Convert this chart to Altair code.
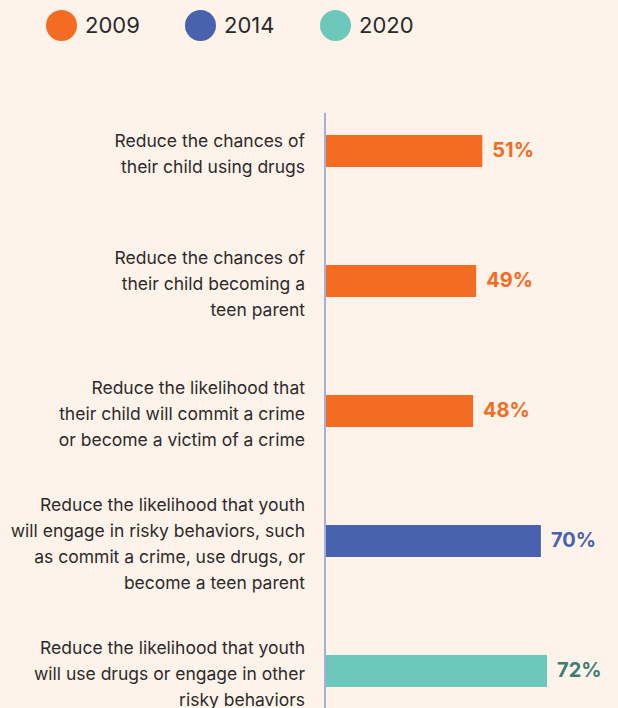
import altair as alt
import pandas as pd

categories = [
    "Reduce the chances of|their child using drugs",
    "Reduce the chances of|their child becoming a|teen parent",
    "Reduce the likelihood that|their child will commit a crime|or become a victim of a crime",
    "Reduce the likelihood that youth|will engage in risky behaviors, such|as commit a crime, use drugs, or|become a teen parent",
    "Reduce the likelihood that youth|will use drugs or engage in other|risky behaviors",
]
years = ["2009", "2009", "2009", "2014", "2020"]
values = [51, 49, 48, 70, 72]
year_domain = ["2009", "2014", "2020"]
bar_colors = ["#F36C22", "#4862AD", "#6CC8BA"]
label_colors = ["#F36C22", "#4862AD", "#3F7D73"]

df = pd.DataFrame({"category": categories, "year": years, "value": values})
df["label"] = df["value"].astype(str) + "%"

font = "Inter"
LINE_H = 26

y_enc = alt.Y(
    "category:N",
    sort=None,
    scale=alt.Scale(paddingInner=0.754, paddingOuter=0.377, range=[0, 650]),
    axis=None,
)
x_enc = alt.X("value:Q", scale=alt.Scale(domain=[0, 95]), axis=None)

bars = alt.Chart(df).mark_bar(size=32).encode(
    x=x_enc,
    y=y_enc,
    color=alt.Color(
        "year:N",
        scale=alt.Scale(domain=year_domain, range=bar_colors),
        legend=alt.Legend(
            orient="none",
            legendX=-279,
            legendY=-76,
            direction="horizontal",
            title=None,
            symbolType="circle",
            symbolSize=961,
            symbolStrokeWidth=0,
            symbolOpacity=1,
            labelFontSize=22,
            labelOffset=8,
            columnPadding=45,
            labelFont=font,
            labelColor="#2A2A2A",
            padding=0,
        ),
    ),
)

cat_labels = alt.Chart(df).transform_calculate(
    off=f"19.5 - (length(split(datum.category, '|')) - 1) * {LINE_H / 2}"
).mark_text(
    align="right",
    baseline="middle",
    lineBreak="|",
    lineHeight=LINE_H,
    fontSize=17.5,
    font=font,
    color="#2E2A2A",
).encode(
    x=alt.value(-20),
    y=y_enc,
    yOffset=alt.YOffset("off:Q", scale=None),
    text="category:N",
)

texts = alt.Chart(df).mark_text(
    align="left", baseline="middle", dx=10, fontSize=20, fontWeight="bold", font=font
).encode(
    x=x_enc,
    y=y_enc,
    text="label:N",
    color=alt.Color(
        "year:N",
        scale=alt.Scale(domain=year_domain, range=label_colors),
        legend=None,
    ),
)

rule = alt.Chart(pd.DataFrame({"a": [0]})).mark_rule(color="#A7AEDB", strokeWidth=2).encode(
    x=alt.value(0), y=alt.value(27), y2=alt.value(622)
)

chart = (
    alt.layer(bars, rule, cat_labels, texts)
    .resolve_scale(color="independent")
    .properties(
        width=293,
        height=622,
        autosize="none",
        padding={"left": 325, "top": 86, "right": 0, "bottom": 0},
        background="#FDF3EA",
    )
    .configure_view(stroke=None)
)

chart.save("out.html", embed_options={"renderer": "svg", "actions": False})
